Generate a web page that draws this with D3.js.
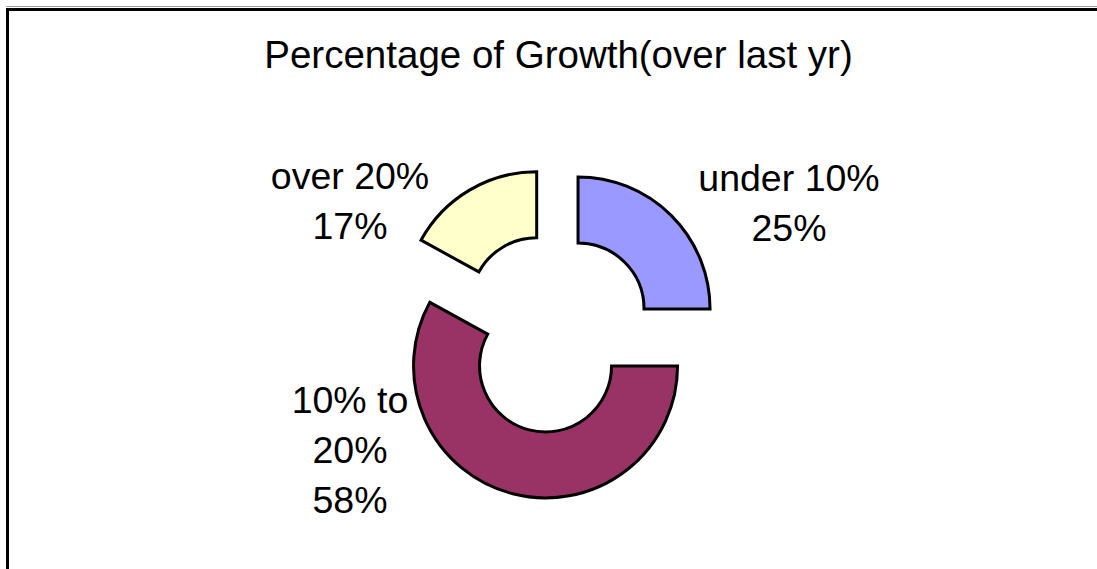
<!DOCTYPE html>
<html>
<head>
<meta charset="utf-8">
<script src="https://cdn.jsdelivr.net/npm/d3@7"></script>
<style>
  html, body { margin: 0; padding: 0; background: #fff; }
  svg { display: block; }
  text { font-family: "Liberation Sans", Arial, sans-serif; fill: #000; }
</style>
</head>
<body>
<svg id="chart" width="1097" height="569"></svg>
<script>
// Growth buckets and their share of companies
const categories = ["under 10%", "10% to 20%", "over 20%"];
const shares = [25, 58, 17];
const labelLines = [["under 10%", "25%"], ["10% to", "20%", "58%"], ["over 20%", "17%"]];
const colors = ["#9999FF", "#993366", "#FFFFCC"];
const title = "Percentage of Growth(over last yr)";

const W = 1097, H = 569;
const svg = d3.select("#chart");

// Frame: dark rule along top and left, faint grey edge above
svg.append("line").attr("x1", 6).attr("x2", W).attr("y1", 6.5).attr("y2", 6.5)
  .attr("stroke", "#9a9a9a").attr("stroke-width", 1);
svg.append("path").attr("d", `M7.5,${H} V9.5 H${W}`)
  .attr("fill", "none").attr("stroke", "#000").attr("stroke-width", 3);

svg.append("text")
  .attr("x", 558.5).attr("y", 68)
  .attr("text-anchor", "middle")
  .attr("font-size", 38.5)
  .text(title);

const cx = 554, cy = 333;
const outerR = 132, innerR = 66, explode = 34;

const data = categories.map((c, i) => ({ name: c, value: shares[i], color: colors[i], lines: labelLines[i] }));
const pie = d3.pie().value(d => d.value).sort(null).startAngle(0).endAngle(2 * Math.PI);
const arc = d3.arc().innerRadius(innerR).outerRadius(outerR);
const arcs = pie(data);

const g = svg.append("g").attr("transform", `translate(${cx},${cy})`);

g.selectAll("path.slice")
  .data(arcs)
  .join("path")
  .attr("class", "slice")
  .attr("transform", d => {
    const mid = (d.startAngle + d.endAngle) / 2;
    return `translate(${Math.sin(mid) * explode},${-Math.cos(mid) * explode})`;
  })
  .attr("d", arc)
  .attr("fill", d => d.data.color)
  .attr("stroke", "#000")
  .attr("stroke-width", 3)
  .attr("stroke-linejoin", "miter");

// Data labels sit outside the ring, left or right of it
const labelOffset = [[235, -142], [-204, 80], [-204, -144]];
const lineGap = 50;
g.selectAll("text.lbl")
  .data(arcs)
  .join("text")
  .attr("class", "lbl")
  .attr("text-anchor", "middle")
  .attr("font-size", 37.5)
  .each(function (d, i) {
    const t = d3.select(this);
    d.data.lines.forEach((ln, k) => {
      t.append("tspan")
        .attr("x", labelOffset[i][0])
        .attr("y", labelOffset[i][1] + k * lineGap)
        .text(ln);
    });
  });
</script>
</body>
</html>
